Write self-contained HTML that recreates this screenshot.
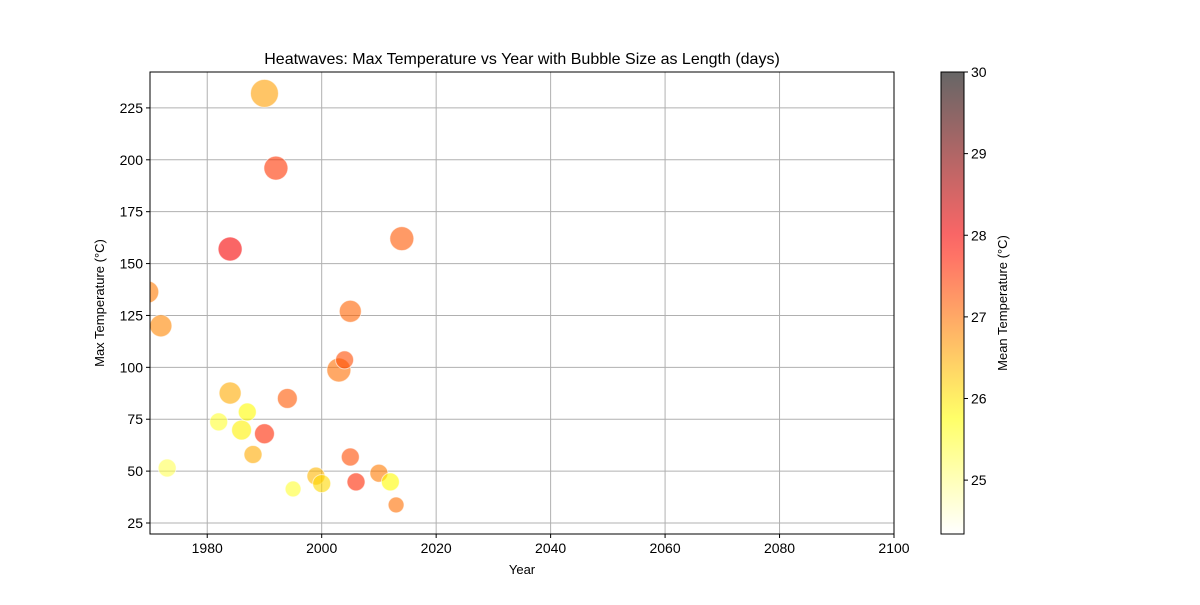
<!DOCTYPE html>
<html><head><meta charset="utf-8"><style>body{margin:0;background:#fff}svg text{font-family:"Liberation Sans","DejaVu Sans",sans-serif;fill:#000}</style></head>
<body>
<svg id="chart" width="1200" height="600" xmlns="http://www.w3.org/2000/svg">
<defs>
<clipPath id="plotclip"><rect x="150" y="72" width="744" height="462"/></clipPath>
<linearGradient id="cbgrad" x1="0" y1="1" x2="0" y2="0"></linearGradient>
</defs>
<text x="522" y="64" text-anchor="middle" font-size="16">Heatwaves: Max Temperature vs Year with Bubble Size as Length (days)</text>
<g id="grid"></g>
<g id="bubbles" clip-path="url(#plotclip)"></g>
<rect x="150" y="72" width="744" height="462" fill="none" stroke="#000" stroke-width="1"/>
<g id="axes"></g>
<text x="522" y="574" text-anchor="middle" font-size="13">Year</text>
<text transform="translate(104,303) rotate(-90)" text-anchor="middle" font-size="13">Max Temperature (°C)</text>
<rect x="941" y="72" width="23" height="462" fill="url(#cbgrad)" stroke="#000" stroke-width="1"/>
<g id="cbticks"></g>
<text transform="translate(1007,303) rotate(-90)" text-anchor="middle" font-size="13">Mean Temperature (°C)</text>
</svg>
<script>
const years = [1969.6,1971.9,1973,1982,1984,1984,1986,1987,1988,1990,1990,1992,1994,1995,1999,2000,2003,2004,2005,2005,2006,2010,2012,2013,2014];
const maxTemps = [136.3,120,51.5,73.7,157,87.6,69.8,78.5,58,232,68,196,85,41.4,47.6,44,98.7,103.6,127,56.8,44.8,49,44.8,33.7,162];
const meanTemps = [26.9,26.8,25.3,25.5,28.0,26.5,25.9,25.8,26.5,26.6,27.6,27.5,27.2,25.5,26.4,26.1,27.0,27.3,27.1,27.3,27.6,26.9,25.8,27.0,27.2];
const lengths = [54,54,36,36,64,54,44,36,36,87,44,64,44,28,36,36,64,36,54,36,36,36,36,28,64];
const xTicks = [1980,2000,2020,2040,2060,2080,2100];
const yTicks = [25,50,75,100,125,150,175,200,225];
const cTicks = [25,26,27,28,29,30];
const NS="http://www.w3.org/2000/svg";
const X0=150,X1=894,Y0=534,Y1=72;
const xmin=1970,xmax=2100,ymin=19.7,ymax=242.3,cmin=24.34,cmax=30;
const xs=v=>X0+(v-xmin)/(xmax-xmin)*(X1-X0);
const ys=v=>Y0-(v-ymin)/(ymax-ymin)*(Y0-Y1);
const cs=v=>Y0-(v-cmin)/(cmax-cmin)*(Y0-Y1);
function hotr(t){const s=1-t;const r=Math.min(1,Math.max(0,s/0.365079));const g=Math.min(1,Math.max(0,(s-0.365079)/(0.746032-0.365079)));const b=Math.min(1,Math.max(0,(s-0.746032)/(1-0.746032)));return `rgb(${Math.round(r*255)},${Math.round(g*255)},${Math.round(b*255)})`;}
function el(t,a,p){const e=document.createElementNS(NS,t);for(const k in a)e.setAttribute(k,a[k]);p.appendChild(e);return e;}
const grid=document.getElementById('grid'),axes=document.getElementById('axes');
xTicks.forEach(t=>{const x=xs(t);
 const g=el('line',{x1:x,x2:x,y1:Y1,y2:Y0,stroke:'#b0b0b0','stroke-width':1},grid);
 
 
 const tk=el('line',{x1:x,x2:x,y1:Y0,y2:Y0+4,stroke:'#000'},axes);
 
 
 const tx=el('text',{x:x,y:Y0+19,'text-anchor':'middle','font-size':14},axes);tx.textContent=t;
 
 });
yTicks.forEach(t=>{const y=ys(t);
 const g=el('line',{x1:X0,x2:X1,y1:y,y2:y,stroke:'#b0b0b0','stroke-width':1},grid);
 
 
 const tk=el('line',{x1:X0-4,x2:X0,y1:y,y2:y,stroke:'#000'},axes);
 
 
 const tx=el('text',{x:X0-7,y:y+5,'text-anchor':'end','font-size':14},axes);tx.textContent=t;
 
 });
const bub=document.getElementById('bubbles');
years.forEach((yr,i)=>{const t=(meanTemps[i]-cmin)/(cmax-cmin);
 const c=el('circle',{cx:xs(yr),cy:ys(maxTemps[i]),r:Math.sqrt(lengths[i])*1.5,fill:hotr(t),'fill-opacity':0.6,stroke:'#fff','stroke-opacity':0.6,'stroke-width':1},bub);
 
 });
const grad=document.getElementById('cbgrad');
for(let i=0;i<=20;i++){const t=i/20;el('stop',{offset:t,'stop-color':hotr(t),'stop-opacity':0.6},grad);}
const cb=document.getElementById('cbticks');
cTicks.forEach(t=>{const y=cs(t);
 const tk=el('line',{x1:964,x2:968,y1:y,y2:y,stroke:'#000'},cb);
 
 
 const tx=el('text',{x:971,y:y+5,'font-size':14},cb);tx.textContent=t;
 
 });
</script>
</body></html>
